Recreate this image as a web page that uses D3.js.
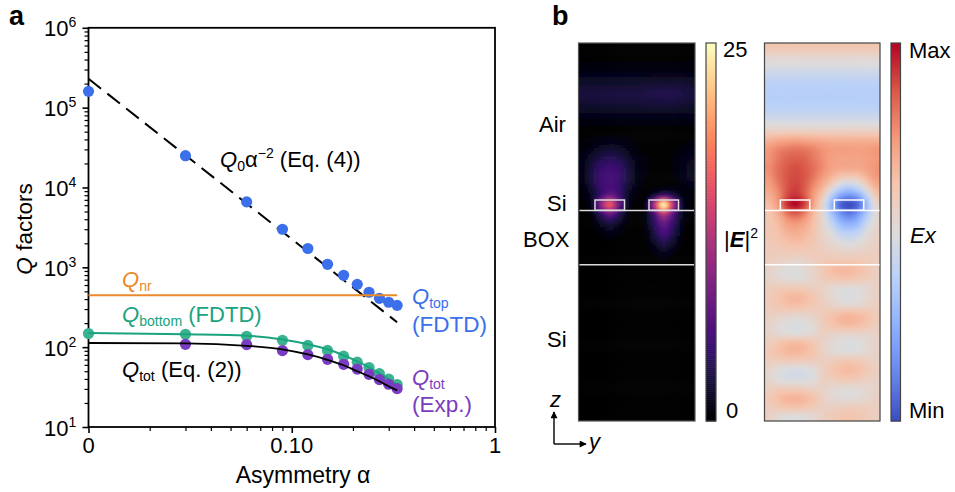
<!DOCTYPE html>
<html>
<head>
<meta charset="utf-8">
<script src="https://cdn.jsdelivr.net/npm/d3@7"></script>
<style>
body { margin: 0; background: #fff; }
svg { display: block; }
text { font-family: "Liberation Sans", Arial, sans-serif; }
</style>
</head>
<body>
<svg id="chart" width="955" height="492"></svg>
<script>
// panel a data
const alpha = [0.01, 0.03, 0.06, 0.09, 0.12, 0.15, 0.18, 0.21, 0.24, 0.27, 0.30, 0.33];
const qTop = [160000, 25000, 6600, 3000, 1720, 1090, 794, 612, 487, 409, 365, 334];
const qBottom = [148, 145, 137, 122, 105, 91, 77, 65, 55.5, 46.6, 39.9, 34];
const qTotExp = [108.6, 107.7, 90.6, 80.7, 70.5, 61, 53.2, 45.7, 39.3, 34.3, 30.3];
const qBottomFit = [150, 145, 139, 125, 109, 94, 79, 66.5, 56, 47, 39.6, 33.3];
const qTotFit = [112.7, 111.7, 104, 94, 81, 69.5, 59.3, 49.9, 43.2, 37.4, 32.3, 28.8];
const qNr = [447, 447];
const qRadAlpha = [0.01, 0.33];
const qRad = [230000, 205];
const xTicks = [0.01, 0.1, 1];
const xTickLabels = ["0", "0.10", "1"];
const xMinor = [0.02, 0.03, 0.04, 0.05, 0.06, 0.07, 0.08, 0.09, 0.2, 0.3, 0.4, 0.5, 0.6, 0.7, 0.8, 0.9];
const yTicks = [10, 100, 1000, 10000, 100000, 1000000];
const yTickExp = ["1", "2", "3", "4", "5", "6"];

// panel b, |E|^2: 41 rows top to bottom, 13 columns
const fieldE = [
  [0,0,0,0,0,0,0,0,0,0,0,0,0],
  [.1,.1,.1,.1,.1,.1,.1,.1,.1,.1,.1,.1,.1],
  [.5,.5,.5,.5,.5,.5,.5,.5,.5,.5,.5,.5,.5],
  [1.2,1.2,1.2,1.2,1.2,1.2,1.2,1.2,1.3,1.3,1.3,1.3,1.2],
  [2.1,2.1,2.2,2.2,2.2,2.2,2.2,2.3,2.4,2.4,2.4,2.4,2.2],
  [2.7,2.7,2.8,2.8,2.8,2.8,2.8,3,3.1,3.2,3.2,3,2.8],
  [2.3,2.4,2.4,2.4,2.4,2.4,2.4,2.6,2.6,2.7,2.7,2.5,2.3],
  [1.5,1.5,1.5,1.5,1.5,1.5,1.5,1.6,1.6,1.6,1.6,1.5,1.5],
  [.6,.6,.6,.6,.6,.6,.6,.6,.6,.6,.6,.6,.6],
  [.1,.1,.1,.1,.1,.1,.1,.1,.1,.1,.1,.1,.1],
  [.3,.5,.7,.8,.7,.5,.2,.1,.05,.05,.1,.2,.3],
  [.6,1.2,1.9,2.2,1.9,1.1,.4,.15,.1,.1,.2,.5,.8],
  [1,2.2,3.4,3.8,3.4,2.1,.8,.3,.1,.1,.4,.9,1.3],
  [1.2,3,4.6,5,4.6,3,1.2,.3,.1,.1,.4,1,1.6],
  [1.1,3.2,5,5.6,5,3.1,1.1,.3,.05,.05,.3,.9,1.6],
  [.8,2.8,5,5.8,4.8,2.6,.8,.2,.1,.3,.3,.6,1],
  [.4,1.8,5,7.5,5.4,1.8,.4,.4,2.4,5,3.2,1,.4],
  [.2,1.8,10,16.5,8,1.8,.2,1.4,13,25,13,2.4,.3],
  [.1,.8,4.4,8,4.2,.8,.1,1,6,13,7,1.6,.2],
  [.02,.3,1.9,3,1.8,.3,.02,.8,4.4,7.5,5,1.2,.1],
  [0,.1,.7,1.2,.7,.1,0,.5,3.4,6,3.8,.8,.05],
  [0,0,.15,.3,.15,0,0,.3,2,3.8,2.3,.4,0],
  [0,0,0,.05,0,0,0,.1,.8,1.7,.9,.15,0],
  [0,0,0,0,0,0,0,0,.15,.4,.15,0,0],
  [0,0,0,0,0,0,0,0,.02,.05,.02,0,0],
  [0,0,0,0,0,0,0,0,0,0,0,0,0],
  [0,0,0,0,0,0,0,0,0,0,0,0,0],
  [0,0,0,0,0,0,0,0,0,0,0,0,0],
  [0,0,0,0,0,0,0,0,0,0,0,0,0],
  [0,0,0,0,0,0,0,0,0,0,0,0,0],
  [0,0,0,0,0,0,0,0,0,0,0,0,0],
  [0,0,0,0,0,0,0,0,0,0,0,0,0],
  [0,0,0,0,0,0,0,0,0,0,0,0,0],
  [0,0,0,0,0,0,0,0,0,0,0,0,0],
  [0,0,0,0,0,0,0,0,0,0,0,0,0],
  [0,0,0,0,0,0,0,0,0,0,0,0,0],
  [0,0,0,0,0,0,0,0,0,0,0,0,0],
  [0,0,0,0,0,0,0,0,0,0,0,0,0],
  [0,0,0,0,0,0,0,0,0,0,0,0,0],
  [0,0,0,0,0,0,0,0,0,0,0,0,0],
  [0,0,0,0,0,0,0,0,0,0,0,0,0]
];

// panel b, Ex on a -1..1 scale, same grid
const fieldEx = [
  [.22,.22,.22,.22,.22,.22,.22,.22,.22,.22,.22,.22,.22],
  [.07,.07,.07,.07,.07,.07,.07,.07,.07,.07,.07,.07,.07],
  [-.02,-.02,-.02,-.02,-.02,-.02,-.02,-.02,-.02,-.02,-.02,-.02,-.02],
  [-.15,-.15,-.15,-.15,-.15,-.15,-.15,-.15,-.15,-.15,-.15,-.15,-.15],
  [-.24,-.24,-.24,-.24,-.24,-.24,-.24,-.24,-.24,-.24,-.24,-.24,-.24],
  [-.26,-.26,-.26,-.26,-.26,-.26,-.26,-.26,-.26,-.26,-.26,-.26,-.26],
  [-.25,-.25,-.25,-.25,-.25,-.25,-.25,-.25,-.25,-.25,-.25,-.25,-.25],
  [-.18,-.18,-.18,-.18,-.18,-.18,-.18,-.18,-.18,-.18,-.18,-.18,-.18],
  [-.05,-.05,-.05,-.05,-.05,-.05,-.05,-.05,-.05,-.05,-.05,-.05,-.05],
  [.12,.12,.12,.12,.12,.12,.12,.12,.12,.12,.12,.12,.12],
  [.34,.4,.42,.44,.42,.4,.38,.36,.36,.36,.36,.36,.36],
  [.5,.58,.62,.64,.62,.58,.52,.48,.47,.47,.47,.48,.5],
  [.52,.62,.7,.72,.7,.62,.54,.46,.44,.44,.44,.46,.5],
  [.55,.66,.74,.78,.74,.66,.56,.46,.42,.42,.42,.46,.52],
  [.52,.66,.76,.8,.76,.64,.5,.36,.24,.2,.24,.36,.5],
  [.46,.6,.76,.82,.74,.56,.38,.14,-.1,-.2,-.1,.14,.38],
  [.38,.54,.78,.87,.74,.48,.22,-.2,-.52,-.62,-.52,-.18,.22],
  [.3,.5,.88,1,.84,.44,.08,-.42,-.88,-1,-.88,-.42,.06],
  [.24,.38,.64,.74,.6,.32,.06,-.34,-.64,-.8,-.64,-.32,.02],
  [.22,.3,.46,.52,.44,.27,.08,-.16,-.44,-.52,-.44,-.15,.06],
  [.22,.26,.36,.4,.34,.24,.1,-.02,-.2,-.26,-.2,-.02,.1],
  [.2,.22,.28,.3,.27,.22,.12,.06,-.02,-.06,-.02,.06,.12],
  [.18,.18,.2,.2,.2,.18,.16,.12,.1,.08,.1,.12,.14],
  [.16,.14,.12,.1,.12,.16,.18,.2,.2,.2,.2,.18,.16],
  [.1,.05,.02,0,.04,.1,.2,.28,.31,.31,.28,.22,.14],
  [.1,.05,.02,0,.04,.1,.18,.22,.25,.25,.22,.18,.14],
  [.16,.18,.18,.18,.16,.14,.12,.06,.03,.02,.03,.06,.12],
  [.18,.24,.3,.33,.3,.22,.14,.06,0,-.03,0,.06,.12],
  [.18,.22,.26,.28,.24,.2,.16,.12,.08,.06,.08,.12,.14],
  [.14,.12,.1,.08,.1,.12,.18,.24,.3,.33,.3,.26,.18],
  [.1,.04,0,-.02,0,.05,.16,.24,.3,.32,.3,.24,.16],
  [.1,.05,.02,0,.02,.06,.14,.12,.1,.1,.1,.1,.12],
  [.16,.22,.28,.3,.28,.2,.12,.05,0,-.02,0,.05,.1],
  [.2,.26,.32,.34,.3,.24,.13,.05,.02,0,.02,.06,.1],
  [.16,.16,.18,.18,.16,.16,.14,.16,.2,.22,.2,.16,.12],
  [.08,0,-.04,-.06,-.04,.01,.13,.22,.28,.3,.28,.2,.14],
  [.08,0,-.03,-.04,-.03,.01,.13,.16,.2,.2,.18,.14,.12],
  [.14,.17,.18,.18,.15,.12,.12,.07,.04,.03,.04,.07,.1],
  [.2,.28,.34,.36,.32,.25,.13,.06,.03,.02,.03,.07,.12],
  [.16,.2,.24,.25,.22,.18,.13,.13,.14,.16,.17,.16,.14],
  [.12,.05,.01,0,.02,.06,.13,.18,.22,.24,.22,.18,.14]
];

const coolwarm = ["#3b4cc0", "#6282ea", "#8db0fe", "#b8d0f9", "#dddcdc", "#f5c4ac", "#f49a7b", "#d95847", "#b40426"];

const blue = "#3c70ea", green = "#1aa37f", greenDot = "#3bb391", purple = "#7a3cc0", orange = "#ea8a2c";

const svg = d3.select("#chart");

// text with italic / sub / sup runs
function rich(x, y, parts, color, size) {
  const t = svg.append("text").attr("x", x).attr("y", y).attr("fill", color || "#000").attr("font-size", size || 22);
  let shift = 0;
  parts.forEach(p => {
    const s = t.append("tspan").text(p.t);
    const target = p.sub ? 4 : p.sup ? -9 : 0;
    if (target != shift) s.attr("dy", target - shift);
    shift = target;
    if (p.sub || p.sup) s.attr("font-size", (size || 22) * 0.64);
    if (p.i) s.attr("font-style", "italic");
    if (p.b) s.attr("font-weight", "bold");
  });
  return t;
}

// ---------- panel a
const x = d3.scaleLog().domain([0.01, 1]).range([88.5, 495]);
const y = d3.scaleLog().domain([10, 1000000]).range([427, 27.8]);

const yMinor = [];
yTicks.slice(0, -1).forEach(d => d3.range(2, 10).forEach(k => yMinor.push(d * k)));

svg.append("g").attr("transform", "translate(88.5,0)")
  .call(d3.axisLeft(y).tickValues(yTicks).tickSize(6).tickFormat(""))
  .call(g => g.select(".domain").remove())
  .selectAll("line").attr("stroke-width", 1.6);
svg.append("g").attr("transform", "translate(88.5,0)")
  .call(d3.axisLeft(y).tickValues(yMinor).tickSize(4).tickFormat(""))
  .call(g => g.select(".domain").remove())
  .selectAll("line").attr("stroke-width", 1.2);
svg.append("g").attr("transform", "translate(0,427)")
  .call(d3.axisBottom(x).tickValues(xTicks).tickSize(6).tickFormat(""))
  .call(g => g.select(".domain").remove())
  .selectAll("line").attr("stroke-width", 1.6);
svg.append("g").attr("transform", "translate(0,427)")
  .call(d3.axisBottom(x).tickValues(xMinor).tickSize(4).tickFormat(""))
  .call(g => g.select(".domain").remove())
  .selectAll("line").attr("stroke-width", 1.2);

svg.append("rect").attr("x", x(0.01)).attr("y", y(1000000))
  .attr("width", x(1) - x(0.01)).attr("height", y(10) - y(1000000))
  .attr("fill", "none").attr("stroke", "#000").attr("stroke-width", 1.8);

yTicks.forEach((d, i) => {
  rich(44, y(d) + 8.5, [{ t: "10" }, { t: yTickExp[i], sup: true }]);
});
xTicks.forEach((d, i) => {
  svg.append("text").attr("x", x(d)).attr("y", 453).attr("text-anchor", "middle")
    .attr("font-size", 22).text(xTickLabels[i]);
});
svg.append("text").attr("x", 303).attr("y", 483).attr("text-anchor", "middle")
  .attr("font-size", 23).text("Asymmetry α");
rich(0, 0, [{ t: "Q", i: true }, { t: " factors" }], "#000", 22.5)
  .attr("x", null).attr("y", null).attr("text-anchor", "middle")
  .attr("transform", "translate(32,229) rotate(-90)");

const line = d3.line().x(d => x(d[0])).y(d => y(d[1])).curve(d3.curveMonotoneX);

function dots(xs, ys, color) {
  svg.append("g").selectAll("circle").data(d3.zip(xs, ys)).join("circle")
    .attr("cx", d => x(d[0])).attr("cy", d => y(d[1])).attr("r", 5.6).attr("fill", color);
}

svg.append("path").attr("d", line(d3.zip(qRadAlpha, qRad))).attr("fill", "none")
  .attr("stroke", "#000").attr("stroke-width", 2).attr("stroke-dasharray", "16,8");
dots(alpha, qTop, blue);
svg.append("path").attr("d", line(d3.zip(qRadAlpha, qNr))).attr("fill", "none")
  .attr("stroke", orange).attr("stroke-width", 2);
dots(alpha, qBottom, greenDot);
svg.append("path").attr("d", line(d3.zip(alpha, qBottomFit))).attr("fill", "none")
  .attr("stroke", green).attr("stroke-width", 2);
dots(alpha.slice(1), qTotExp, purple);
svg.append("path").attr("d", line(d3.zip(alpha, qTotFit))).attr("fill", "none")
  .attr("stroke", "#000").attr("stroke-width", 1.8);

rich(220, 167, [{ t: "Q", i: true }, { t: "0", sub: true }, { t: "α" }, { t: "−2", sup: true }, { t: " (Eq. (4))" }], "#000", 22);
rich(122, 287, [{ t: "Q", i: true }, { t: "nr", sub: true }], orange);
rich(122, 322, [{ t: "Q", i: true }, { t: "bottom", sub: true }, { t: " (FDTD)" }], green);
rich(122, 377, [{ t: "Q", i: true }, { t: "tot", sub: true }, { t: " (Eq. (2))" }]);
rich(412, 303.5, [{ t: "Q", i: true }, { t: "top", sub: true }], blue);
rich(412, 331.5, [{ t: "(FDTD)" }], blue, 22.5);
rich(412, 384.5, [{ t: "Q", i: true }, { t: "tot", sub: true }], purple);
rich(412, 411.5, [{ t: "(Exp.)" }], purple, 22.5);

svg.append("text").attr("x", 9).attr("y", 25).attr("font-size", 27).attr("font-weight", "bold").text("a");
svg.append("text").attr("x", 552).attr("y", 25).attr("font-size", 27).attr("font-weight", "bold").text("b");

// ---------- panel b
const defs = svg.append("defs");
defs.append("filter").attr("id", "soft").append("feGaussianBlur").attr("stdDeviation", 1.6);

const colorE = d3.scaleSequential(d3.interpolateMagma).domain([0, 25]).clamp(true);
const colorEx = d3.scaleLinear().domain(d3.range(9).map(i => -1 + i / 4)).range(coolwarm).clamp(true);

// smooth value between the read-off grid cells
function sampleGrid(grid, u, v) {
  const rows = grid.length, cols = grid[0].length;
  const gu = u - 0.5, gv = v - 0.5;
  const i = Math.floor(gu), j = Math.floor(gv);
  const at = (r, c) => grid[Math.max(0, Math.min(rows - 1, r))][Math.max(0, Math.min(cols - 1, c))];
  const cr = (a, b, c, d, t) => 0.5 * (2 * b + (c - a) * t + (2 * a - 5 * b + 4 * c - d) * t * t + (3 * b - a - 3 * c + d) * t * t * t);
  const k = [-1, 0, 1, 2].map(dj => cr(at(j + dj, i - 1), at(j + dj, i), at(j + dj, i + 1), at(j + dj, i + 2), gu - i));
  return cr(k[0], k[1], k[2], k[3], gv - j);
}

function heatmap(id, grid, color, left, right, stroke) {
  const top = 43, bottom = 421, sub = 3;
  const cols = grid[0].length, rows = grid.length;
  const gx = d3.scaleLinear().domain([0, cols]).range([left, right]);
  const gy = d3.scaleLinear().domain([0, rows]).range([top, bottom]);
  const cells = [];
  d3.range(-3, rows * sub + 3).forEach(r => d3.range(-3, cols * sub + 3).forEach(c => {
    const u = (c + 0.5) / sub, v = (r + 0.5) / sub;
    cells.push({ u: u, v: v, value: sampleGrid(grid, u, v) });
  }));
  defs.append("clipPath").attr("id", id).append("rect")
    .attr("x", left).attr("y", top).attr("width", right - left).attr("height", bottom - top);
  svg.append("g").attr("clip-path", "url(#" + id + ")")
    .append("g").attr("filter", "url(#soft)")
    .selectAll("rect").data(cells).join("rect")
    .attr("x", d => gx(d.u - 0.5 / sub)).attr("y", d => gy(d.v - 0.5 / sub))
    .attr("width", gx(1 / sub) - gx(0) + 0.6).attr("height", gy(1 / sub) - gy(0) + 0.6)
    .attr("fill", d => color(d.value));
  svg.append("rect").attr("x", left).attr("y", top).attr("width", right - left).attr("height", bottom - top)
    .attr("fill", "none").attr("stroke", stroke).attr("stroke-width", 1.2);
}

function colorbar(color, lo, hi, left, right) {
  const top = 43, bottom = 421;
  const steps = d3.range(0, 190);
  const by = d3.scaleLinear().domain([0, 190]).range([bottom, top]);
  const val = d3.scaleLinear().domain([0, 190]).range([lo, hi]);
  svg.append("g").selectAll("rect").data(steps).join("rect")
    .attr("x", left).attr("width", right - left)
    .attr("y", d => by(d + 1)).attr("height", by(0) - by(1) + 0.5)
    .attr("fill", d => color(val(d + 0.5)));
  svg.append("rect").attr("x", left).attr("y", top).attr("width", right - left).attr("height", bottom - top)
    .attr("fill", "none").attr("stroke", "#444").attr("stroke-width", 1.2);
}

// waveguide outlines and layer lines
function structure(left, right, box1, box2, color) {
  const s = svg.append("g").attr("fill", "none").attr("stroke", color).attr("stroke-width", 1.5);
  [box1, box2].forEach(b => {
    s.append("rect").attr("x", b).attr("y", 200).attr("width", 29.5).attr("height", 10.3);
  });
  [210.4, 264.7].forEach(h => {
    s.append("line").attr("x1", left).attr("x2", right).attr("y1", h).attr("y2", h);
  });
}

heatmap("clipE", fieldE, colorE, 578.5, 695, "#555");
colorbar(colorE, 0, 25, 706, 716);
structure(579.5, 694, 595, 649, "#dcdcdc");
heatmap("clipEx", fieldEx, colorEx, 764.5, 880, "#444");
colorbar(colorEx, -1, 1, 891, 900.5);
structure(765, 879.5, 780.3, 834.3, "#fff");

rich(539, 132, [{ t: "Air" }]);
rich(547, 211, [{ t: "Si" }]);
rich(523, 247, [{ t: "BOX" }]);
rich(547, 346.5, [{ t: "Si" }]);
rich(723, 57, [{ t: "25" }]);
rich(724, 247, [{ t: "|" }, { t: "E", i: true, b: true }, { t: "|" }, { t: "2", sup: true }]);
rich(726, 418, [{ t: "0" }]);
rich(909, 58, [{ t: "Max" }]);
rich(910, 243, [{ t: "Ex", i: true }]);
rich(909, 418, [{ t: "Min" }]);
rich(550, 407, [{ t: "z", i: true }]);
rich(589, 449, [{ t: "y", i: true }]);

// z / y arrows
const marker = defs.append("marker").attr("id", "arrow").attr("viewBox", "0 0 10 10")
  .attr("refX", 9).attr("refY", 5).attr("markerWidth", 9).attr("markerHeight", 7)
  .attr("markerUnits", "userSpaceOnUse").attr("orient", "auto");
marker.append("path").attr("d", "M0,0L10,5L0,10Z").attr("fill", "#000");
svg.append("line").attr("x1", 554).attr("y1", 444).attr("x2", 554).attr("y2", 412)
  .attr("stroke", "#000").attr("stroke-width", 1.4).attr("marker-end", "url(#arrow)");
svg.append("line").attr("x1", 554).attr("y1", 444).attr("x2", 586).attr("y2", 444)
  .attr("stroke", "#000").attr("stroke-width", 1.4).attr("marker-end", "url(#arrow)");
</script>
</body>
</html>
